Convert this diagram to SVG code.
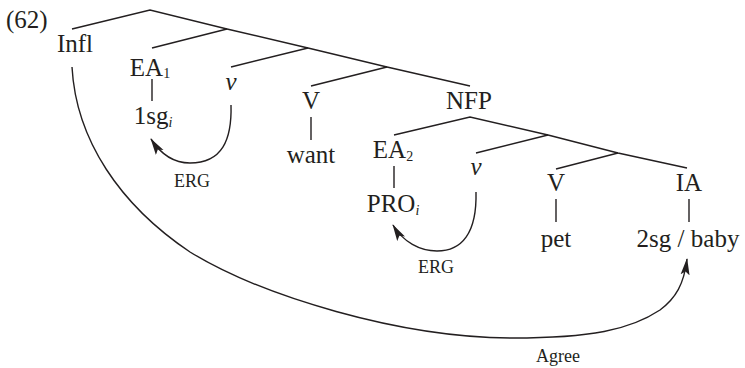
<svg xmlns="http://www.w3.org/2000/svg" width="745" height="368" viewBox="0 0 745 368">
<style>
text{font-family:"Liberation Serif","Times New Roman",serif;fill:#231f20}
.n{font-size:25px;text-anchor:middle}
.l{font-size:18px;text-anchor:middle}
.s{font-size:14px}
.it{font-style:italic}
.e{stroke:#231f20;stroke-width:1.4;fill:none}
.a{stroke:#231f20;stroke-width:1.4;fill:none;marker-end:url(#ah)}
</style>
<defs>
<marker id="ah" markerUnits="userSpaceOnUse" viewBox="0 0 17 10" refX="16" refY="5" markerWidth="17" markerHeight="10" orient="auto">
<path d="M0,0.5 L17,5 L0,9.5 L3.5,5 Z" fill="#231f20"/>
</marker>
</defs>
<rect width="745" height="368" fill="#fff"/>
<text x="6" y="28" style="font-size:25px">(62)</text>
<g id="connectors">
<polyline class="e" points="72,29 150,10 227,29 308,48 387,67 470,86"/>
<line class="e" x1="227" y1="29" x2="152" y2="48"/>
<line class="e" x1="308" y1="48" x2="231" y2="67"/>
<line class="e" x1="387" y1="67" x2="311" y2="86"/>
<polyline class="e" points="394,135 470,117 548,135 618,153 687,168"/>
<line class="e" x1="548" y1="135" x2="476" y2="153"/>
<line class="e" x1="618" y1="153" x2="556" y2="169"/>
<line class="e" x1="152" y1="79" x2="152" y2="101"/>
<line class="e" x1="311" y1="117" x2="311" y2="140"/>
<line class="e" x1="394" y1="166" x2="394" y2="188"/>
<line class="e" x1="556" y1="199" x2="556" y2="222"/>
<line class="e" x1="689" y1="199" x2="689" y2="222"/>
<path class="a" d="M231,105 C232,140 222,163 190,163 C175,163 162,156 151,139"/>
<path class="a" d="M476,192 C477,233 462,251 437,251 C420,251 403,242 393,225"/>
<path class="a" d="M72,67 C76,140 120,205 190,252 C262,296 400,338 513,338 C590,338 630,330 660,310 C676,298 684,284 687,259"/>
</g>
<g id="infl"><text class="n" x="75" y="52">Infl</text></g>
<g id="ea1"><text class="n" x="150" y="76">EA<tspan class="s" dy="2">1</tspan></text></g>
<g id="sg1"><text class="n" x="153" y="124">1sg<tspan class="s it" dy="3">i</tspan></text></g>
<g id="v1"><text class="n it" x="231" y="90">v</text></g>
<g id="V1"><text class="n" x="311" y="109">V</text></g>
<g id="want"><text class="n" x="311" y="163">want</text></g>
<g id="nfp"><text class="n" x="469" y="109">NFP</text></g>
<g id="ea2"><text class="n" x="393" y="158">EA<tspan class="s" dy="3">2</tspan></text></g>
<g id="pro"><text class="n" x="393" y="212">PRO<tspan class="s it" dy="3">i</tspan></text></g>
<g id="v2"><text class="n it" x="476" y="175">v</text></g>
<g id="V2"><text class="n" x="556" y="191">V</text></g>
<g id="pet"><text class="n" x="556" y="247">pet</text></g>
<g id="ia"><text class="n" x="689" y="191">IA</text></g>
<g id="baby"><text class="n" x="688" y="247">2sg / baby</text></g>
<g id="erg1"><text class="l" x="192" y="187">ERG</text></g>
<g id="erg2"><text class="l" x="436" y="273">ERG</text></g>
<g id="agree"><text class="l" x="558" y="362">Agree</text></g>
</svg>
